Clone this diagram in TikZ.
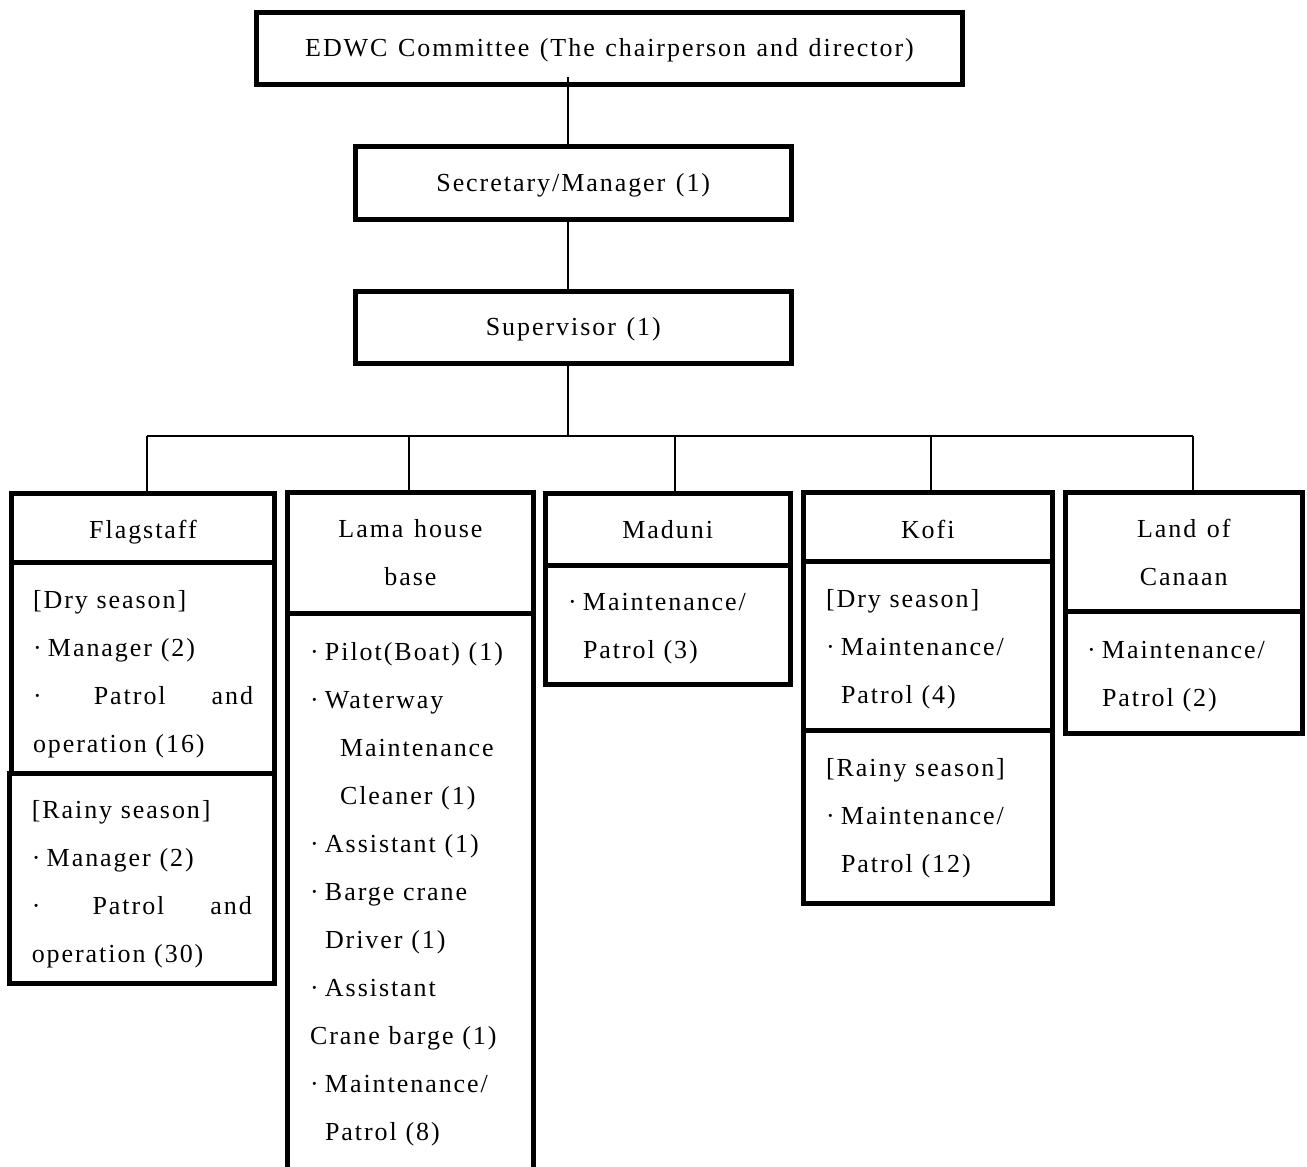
\documentclass[tikz,border=0pt]{standalone}
\usepackage{fontspec}
\setmainfont{Liberation Serif}[LetterSpace=7.5,WordSpace=1.25]
\usetikzlibrary{positioning}

\newcommand{\bul}{\makebox[15pt][l]{·}}
\newcommand{\spreadline}[2]{\leavevmode\hbox to 220pt{\bul\hfill #1\hfill #2}}

\begin{document}
\begin{tikzpicture}[x=1pt,y=-1pt,
    box/.style={draw,line width=5pt,inner sep=0pt,outer sep=0pt,anchor=north west,
      align=center,font=\fontsize{26pt}{48pt}\selectfont},
    list/.style={box,align=left},
    sink/.style={execute at begin node={\rule{0pt}{#1}}},
    link/.style={line width=1.8pt}]
    \useasboundingbox (0,0) rectangle (1307,1167);

    % top of the chart
    \node[box,sink=22pt,minimum width=706pt,minimum height=72pt] (edwc) at (256.5,12) {EDWC Committee (The chairperson and director)};
    \node[box,sink=24pt,minimum width=435.5pt,minimum height=73pt] (secretary) at (355.5,146) {Secretary/Manager (1)};
    \node[box,sink=22pt,minimum width=435.5pt,minimum height=71.5pt] (supervisor) at (355.5,291.5) {Supervisor (1)};

    % bus
    \coordinate (b0) at (568,435.7);
    \coordinate (b1) at (147,435.7);
    \coordinate (b2) at (409,435.7);
    \coordinate (b3) at (675,435.7);
    \coordinate (b4) at (931,435.7);
    \coordinate (b5) at (1193,435.7);

    % Flagstaff
    \node[box,sink=28pt,minimum width=263pt,minimum height=69pt] (flag) at (11.5,493) {Flagstaff};
    \node[list,sink=31pt,minimum width=263pt,minimum height=211pt,text width=220pt] (flagdry) at (11.5,562)
      {[Dry season]\\ \bul Manager (2)\\ \spreadline{Patrol}{and}\\ operation (16)};
    \node[list,sink=31pt,minimum width=265.5pt,minimum height=210pt,text width=220pt] (flagrainy) at (9,773)
      {[Rainy season]\\ \bul Manager (2)\\ \spreadline{Patrol}{and}\\ operation (30)};

    % Lama house base
    \node[box,sink=21pt,minimum width=246pt,minimum height=121pt] (lama) at (287.5,492) {Lama house\\base};
    \node[list,sink=22pt,minimum width=246pt,minimum height=558pt,text width=201pt] (lamabody) at (287.5,613)
      {\bul Pilot(Boat) (1)\\
       \bul Waterway\\
       \hspace*{30pt}Maintenance\\
       \hspace*{30pt}Cleaner (1)\\
       \bul Assistant (1)\\
       \bul Barge crane\\
       \hspace*{15pt}Driver (1)\\
       \bul Assistant\\
       Crane barge (1)\\
       \bul Maintenance/\\
       \hspace*{15pt}Patrol (8)};

    % Maduni
    \node[box,sink=20pt,minimum width=245.5pt,minimum height=72pt] (maduni) at (545,493) {Maduni};
    \node[list,sink=26pt,minimum width=245.5pt,minimum height=119pt,text width=199.5pt] (madunibody) at (545,565)
      {\bul Maintenance/\\ \hspace*{15pt}Patrol (3)};

    % Kofi
    \node[box,sink=24pt,minimum width=249.5pt,minimum height=69pt] (kofi) at (803,492.5) {Kofi};
    \node[list,sink=25pt,minimum width=249.5pt,minimum height=169pt,text width=203.5pt] (kofidry) at (803,561.5)
      {[Dry season]\\ \bul Maintenance/\\ \hspace*{15pt}Patrol (4)};
    \node[list,sink=22pt,minimum width=249.5pt,minimum height=172.5pt,text width=203.5pt] (kofirainy) at (803,730.5)
      {[Rainy season]\\ \bul Maintenance/\\ \hspace*{15pt}Patrol (12)};

    % Land of Canaan
    \node[box,sink=21pt,minimum width=237.5pt,minimum height=119pt] (canaan) at (1065,492.5) {Land of\\Canaan};
    \node[list,sink=26pt,minimum width=237.5pt,minimum height=122pt,text width=193.5pt] (canaanbody) at (1065,611.5)
      {\bul Maintenance/\\ \hspace*{15pt}Patrol (2)};

    % connectors
    \draw[link] ([yshift=7pt]edwc.south -| b0) -- (secretary.north -| b0);
    \draw[link] (secretary.south -| b0) -- (supervisor.north -| b0);
    \draw[link] (supervisor.south -| b0) -- (b0);
    \draw[link] (b1) -- (b5);
    \draw[link] (b1) -- (b1 |- flag.north);
    \draw[link] (b2) -- (b2 |- lama.north);
    \draw[link] (b3) -- (b3 |- maduni.north);
    \draw[link] (b4) -- (b4 |- kofi.north);
    \draw[link] (b5) -- (b5 |- canaan.north);
\end{tikzpicture}
\end{document}
